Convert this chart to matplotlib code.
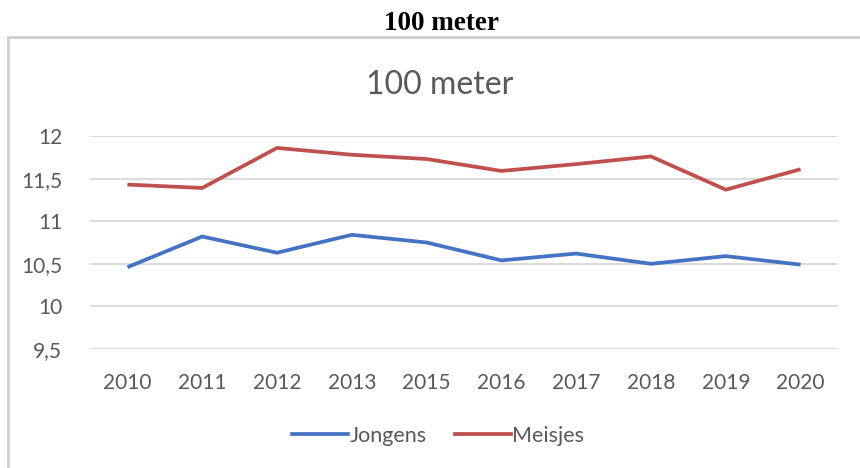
import matplotlib
matplotlib.use("Agg")
import matplotlib.pyplot as plt
from matplotlib.patches import Rectangle
from matplotlib.lines import Line2D

years = ["2010", "2011", "2012", "2013", "2015", "2016", "2017", "2018", "2019", "2020"]
jongens = [10.46, 10.82, 10.63, 10.84, 10.75, 10.54, 10.62, 10.50, 10.59, 10.49]
meisjes = [11.43, 11.39, 11.86, 11.78, 11.73, 11.59, 11.67, 11.76, 11.37, 11.61]
yticks = [9.5, 10, 10.5, 11, 11.5, 12]
ytick_labels = ["9,5", "10", "10,5", "11", "11,5", "12"]

W, H = 860, 468
fig = plt.figure(figsize=(W / 100, H / 100), dpi=100)
fig.patch.set_facecolor("white")

# outer frame
fig.patches.append(Rectangle((8 / W, -0.02), 1.05, 1 - 37 / H + 0.02,
                             transform=fig.transFigure, facecolor="none",
                             edgecolor="#cfcfcf", lw=2, zorder=-1))

# outer title
fig.text(441 / W, 1 - 23 / H, "100 meter", ha="center", va="center",
         fontsize=19.5, fontweight="bold", family=["Liberation Serif", "DejaVu Serif"],
         color="black")
# inner title
fig.text(440 / W, 1 - 85 / H, "100 meter", ha="center", va="center",
         fontsize=23, family=["Lato", "DejaVu Sans"], color="#595959")

ax = fig.add_axes([90 / W, 1 - 349 / H, 748 / W, 213 / H])
ax.set_facecolor("none")
x = list(range(len(years)))
blue = "#4472C4"
red = "#C0504D"
ax.plot(x, jongens, color=blue, lw=2.7, solid_capstyle="butt", solid_joinstyle="miter", label="Jongens")
ax.plot(x, meisjes, color=red, lw=2.7, solid_capstyle="butt", solid_joinstyle="miter", label="Meisjes")

ax.set_xlim(-0.5, len(years) - 0.5)
ax.set_ylim(9.5, 12)
ax.set_yticks(yticks)
ax.set_yticklabels(ytick_labels)
ax.set_xticks(x)
ax.set_xticklabels(years)
for s in ax.spines.values():
    s.set_visible(False)
ax.grid(axis="y", color="#d9d9d9", lw=1.3)
ax.set_axisbelow(True)
ax.tick_params(length=0, labelsize=15, labelcolor="#595959")
ax.tick_params(axis="y", pad=20)
ax.tick_params(axis="x", pad=17)
for t in ax.get_xticklabels() + ax.get_yticklabels():
    t.set_family(["Lato", "DejaVu Sans"])

handles = [Line2D([], [], color=blue, lw=2.7), Line2D([], [], color=red, lw=2.7)]
leg = fig.legend(handles, ["Jongens", "Meisjes"], loc="center",
                 bbox_to_anchor=(438 / W, 1 - 436 / H), ncol=2, frameon=False,
                 handlelength=2.6, handletextpad=0.05, columnspacing=1.3,
                 prop={"family": ["Lato", "DejaVu Sans"], "size": 15.5})
for t in leg.get_texts():
    t.set_color("#595959")

fig.savefig("out.png", dpi=100)
